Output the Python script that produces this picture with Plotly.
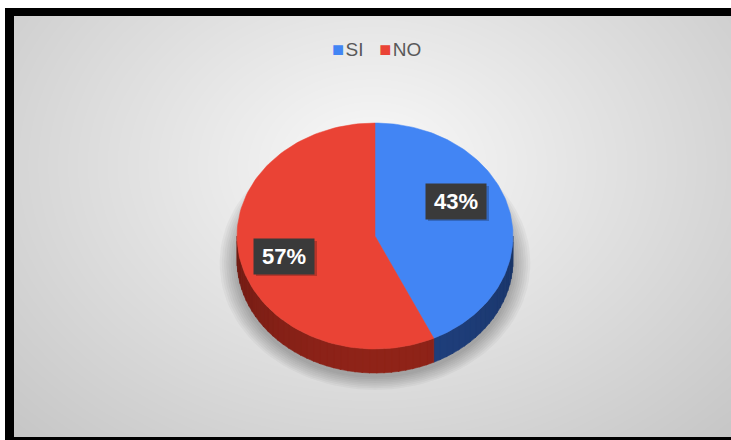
import numpy as np
import plotly.graph_objects as go

# Survey answers
labels = ["SI", "NO"]
values = [43, 57]
percent_text = ["43%", "57%"]

# Styling
TOP_COLORS = ["#4285f4", "#ea4335"]
SIDE_COLORS = [(30, 61, 120), (138, 34, 24)]
LEGEND_COLOR = "#595959"
W, H = 731, 440

# Tilted pie geometry (pixel space: axes map 1 unit = 1 px)
CX, CY = 375, 236
RX, RY = 138, 113
DEPTH = 24


def rim(theta_deg, dy=0.0):
    th = np.radians(theta_deg)
    return CX + RX * np.sin(th), CY - RY * np.cos(th) + dy


fig = go.Figure()

# Soft radial grey background
gx = np.linspace(14, 731, 80)
gy = np.linspace(16, 437, 50)
XX, YY = np.meshgrid(gx, gy)
dist = np.sqrt(((XX - 372) / 400) ** 2 + ((YY - 165) / 300) ** 2)
shade = np.clip(249 - 40 * dist, 0, 255)
fig.add_trace(go.Heatmap(
    x=gx, y=gy, z=shade, zmin=0, zmax=255, zsmooth="best",
    colorscale=[[0, "rgb(0,0,0)"], [1, "rgb(255,255,255)"]],
    showscale=False, hoverinfo="skip"))

# Drop shadow under the pie
for k in range(8):
    grow = 2 + k * 2.2
    t = np.linspace(0, 2 * np.pi, 120)
    fig.add_trace(go.Scatter(
        x=CX + (RX + grow) * np.sin(t),
        y=CY + DEPTH + 3 + (RY + grow * 0.8) * np.cos(t),
        mode="lines", fill="toself", line=dict(width=0),
        fillcolor="rgba(0,0,0,0.035)", hoverinfo="skip"))

total = float(sum(values))
starts, ends = [], []
acc = 0.0
for v in values:
    starts.append(acc)
    acc += v / total * 360.0
    ends.append(acc)

# Visible side wall (front half: 90..270 degrees clockwise from top)
for i in range(len(values)):
    a = max(starts[i], 90.0)
    b = min(ends[i], 270.0)
    if b <= a:
        continue
    n = max(2, int((b - a) / 3))
    edges = np.linspace(a, b, n + 1)
    for j in range(n):
        s0, s1 = edges[j], min(edges[j + 1] + 0.4, b)
        mid = 0.5 * (s0 + s1)
        light = 0.82 + 0.22 * np.cos(np.radians(mid - 175))
        r, g, bl = (int(min(255, c * light)) for c in SIDE_COLORS[i])
        col = f"rgb({r},{g},{bl})"
        arc = np.linspace(s0, s1, 6)
        tx, ty = rim(arc)
        bx, by = rim(arc[::-1], DEPTH)
        fig.add_trace(go.Scatter(
            x=np.concatenate([tx, bx, tx[:1]]),
            y=np.concatenate([ty, by, ty[:1]]),
            mode="lines", fill="toself", fillcolor=col,
            line=dict(width=0.6, color=col), hoverinfo="skip"))

# Top faces of the slices
for i, lab in enumerate(labels):
    arc = np.linspace(starts[i], ends[i], 120)
    ax_, ay_ = rim(arc)
    fig.add_trace(go.Scatter(
        x=np.concatenate([[CX], ax_, [CX]]),
        y=np.concatenate([[CY], ay_, [CY]]),
        mode="lines", fill="toself", fillcolor=TOP_COLORS[i],
        line=dict(width=0.5, color=TOP_COLORS[i]), name=lab,
        hoverinfo="name"))

# Percentage labels in dark boxes
LABEL_POS = [(456, 201), (284, 256)]
annotations = []
shapes = []
for (lx, ly), txt in zip(LABEL_POS, percent_text):
    shapes.append(dict(type="rect", xref="x", yref="y",
                       x0=lx - 28, x1=lx + 33, y0=ly - 15, y1=ly + 20,
                       fillcolor="rgba(0,0,0,0.22)", line=dict(width=0)))
    annotations.append(dict(
        x=lx, y=ly, xref="x", yref="y", text=f"<b>{txt}</b>",
        showarrow=False, bgcolor="#3a3a3a", width=58, height=33,
        font=dict(family="Liberation Sans, Arial", size=22, color="white")))

# Legend
shapes.append(dict(type="rect", xref="x", yref="y", x0=318, x1=435, y0=30, y1=68,
                   fillcolor="rgba(255,255,255,0.3)", line=dict(width=0), layer="below"))
sq = '<span style="color:{c};font-size:20px">■</span><span style="font-size:5px">&nbsp;</span>'
legend_html = (
    sq.format(c=TOP_COLORS[0])
    + f'<span style="color:{LEGEND_COLOR}">{labels[0]}&nbsp;&nbsp;&nbsp;</span>'
    + sq.format(c=TOP_COLORS[1])
    + f'<span style="color:{LEGEND_COLOR}">{labels[1]}</span>'
)
annotations.append(dict(x=376, y=49, xref="x", yref="y", text=legend_html,
                        showarrow=False,
                        font=dict(family="Liberation Sans, Arial", size=19,
                                  color=LEGEND_COLOR)))

# Black frame
for x0, x1, y0, y1 in [(5, 14, 8, 440), (5, W, 8, 16), (14, W, 437, 440)]:
    shapes.append(dict(type="rect", xref="x", yref="y", x0=x0, x1=x1, y0=y0, y1=y1,
                       fillcolor="black", line=dict(width=0)))

fig.update_layout(
    width=W, height=H, autosize=False,
    margin=dict(l=0, r=0, t=0, b=0, pad=0),
    paper_bgcolor="white", plot_bgcolor="white",
    showlegend=False,
    xaxis=dict(range=[0, W], visible=False, fixedrange=True),
    yaxis=dict(range=[H, 0], visible=False, fixedrange=True),
    shapes=shapes, annotations=annotations)

fig.write_html("out.html")
